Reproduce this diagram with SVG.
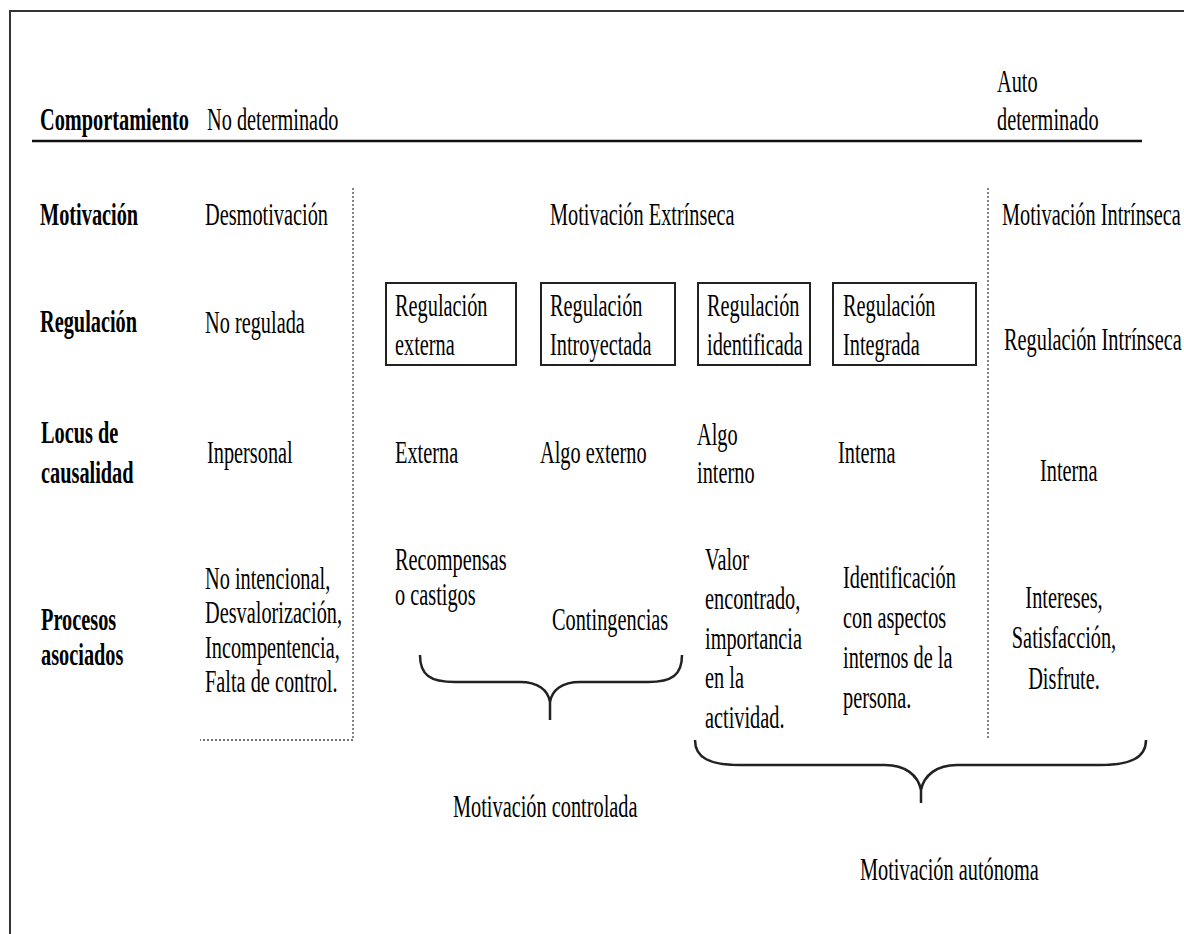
<svg xmlns="http://www.w3.org/2000/svg" width="1184" height="934" viewBox="0 0 1184 934">
<style>
.t{font-family:"Liberation Serif","Times New Roman",serif;font-size:32px;fill:#000}
.b{font-weight:bold}
.c{text-anchor:middle}
.frame{stroke:#333;stroke-width:2;fill:none}
.dot{stroke:#444;stroke-width:1.3;stroke-dasharray:2 2;fill:none}
.box{stroke:#222;stroke-width:2;fill:#fff}
.brace{stroke:#222;stroke-width:2.5;fill:none}
</style>
<rect width="1184" height="934" fill="#fff"/>
<g id="frame">
<path class="frame" d="M10,934 L10,11 L1184,11"/>
<line x1="32" y1="141" x2="1142" y2="141" stroke="#111" stroke-width="2.5"/>
</g>
<g id="connectors">
<path class="dot" d="M353,188 L353,740 L200,740"/>
<path class="dot" d="M988,188 L988,740"/>
<path class="brace" d="M420,655 C420,675 430,682 455,682 L520,682 C538,682 548,690 550,702 C552,690 562,682 580,682 L648,682 C672,682 682,675 682,655 M550,700 L550,720"/>
<path class="brace" d="M695,740 C695,758 710,765 740,765 L885,765 C905,765 918,775 921,790 C924,775 937,765 957,765 L1100,765 C1130,765 1146,758 1146,740 M921,787 L921,803"/>
</g>
<g id="row-comportamiento">
<text class="t b" transform="matrix(0.635 0 0 1 40 130)">Comportamiento</text>
<text class="t" transform="matrix(0.635 0 0 1 207 130)">No determinado</text>
<text class="t" transform="matrix(0.635 0 0 1 997 92)"><tspan x="0" y="0">Auto</tspan><tspan x="0" y="38">determinado</tspan></text>
</g>
<g id="row-motivacion">
<text class="t b" transform="matrix(0.635 0 0 1 40 225)">Motivación</text>
<text class="t" transform="matrix(0.635 0 0 1 205 225)">Desmotivación</text>
<text class="t" transform="matrix(0.635 0 0 1 550 225)">Motivación Extrínseca</text>
<text class="t" transform="matrix(0.635 0 0 1 1002 225)">Motivación Intrínseca</text>
</g>
<g id="row-regulacion">
<text class="t b" transform="matrix(0.635 0 0 1 40 332)">Regulación</text>
<text class="t" transform="matrix(0.635 0 0 1 205 333)">No regulada</text>
<text class="t" transform="matrix(0.635 0 0 1 1004 350)">Regulación Intrínseca</text>
</g>
<g id="box-externa">
<rect class="box" x="386" y="283" width="130" height="82"/>
<text class="t" transform="matrix(0.635 0 0 1 395 316)"><tspan x="0" y="0">Regulación</tspan><tspan x="0" y="39">externa</tspan></text>
</g>
<g id="box-introyectada">
<rect class="box" x="541" y="283" width="134" height="82"/>
<text class="t" transform="matrix(0.635 0 0 1 550 316)"><tspan x="0" y="0">Regulación</tspan><tspan x="0" y="39">Introyectada</tspan></text>
</g>
<g id="box-identificada">
<rect class="box" x="698" y="283" width="112" height="82"/>
<text class="t" transform="matrix(0.635 0 0 1 707 316)"><tspan x="0" y="0">Regulación</tspan><tspan x="0" y="39">identificada</tspan></text>
</g>
<g id="box-integrada">
<rect class="box" x="833" y="283" width="143" height="82"/>
<text class="t" transform="matrix(0.635 0 0 1 843 316)"><tspan x="0" y="0">Regulación</tspan><tspan x="0" y="39">Integrada</tspan></text>
</g>
<g id="row-locus">
<text class="t b" transform="matrix(0.635 0 0 1 41 443)"><tspan x="0" y="0">Locus de</tspan><tspan x="0" y="40">causalidad</tspan></text>
<text class="t" transform="matrix(0.635 0 0 1 207 463)">Inpersonal</text>
<text class="t" transform="matrix(0.635 0 0 1 395 463)">Externa</text>
<text class="t" transform="matrix(0.635 0 0 1 540 463)">Algo externo</text>
<text class="t" transform="matrix(0.635 0 0 1 697 445)"><tspan x="0" y="0">Algo</tspan><tspan x="0" y="38">interno</tspan></text>
<text class="t" transform="matrix(0.635 0 0 1 838 463)">Interna</text>
<text class="t" transform="matrix(0.635 0 0 1 1040 481)">Interna</text>
</g>
<g id="row-procesos">
<text class="t b" transform="matrix(0.635 0 0 1 41 630)"><tspan x="0" y="0">Procesos</tspan><tspan x="0" y="35">asociados</tspan></text>
<text class="t" transform="matrix(0.635 0 0 1 205 589)"><tspan x="0" y="0">No intencional,</tspan><tspan x="0" y="34.5">Desvalorización,</tspan><tspan x="0" y="69">Incompentencia,</tspan><tspan x="0" y="103.5">Falta de control.</tspan></text>
<text class="t" transform="matrix(0.635 0 0 1 395 570)"><tspan x="0" y="0">Recompensas</tspan><tspan x="0" y="35">o castigos</tspan></text>
<text class="t" transform="matrix(0.635 0 0 1 552 630)">Contingencias</text>
<text class="t" transform="matrix(0.635 0 0 1 705 570)"><tspan x="0" y="0">Valor</tspan><tspan x="0" y="39.5">encontrado,</tspan><tspan x="0" y="79">importancia</tspan><tspan x="0" y="118.5">en la</tspan><tspan x="0" y="158">actividad.</tspan></text>
<text class="t" transform="matrix(0.635 0 0 1 843 588)"><tspan x="0" y="0">Identificación</tspan><tspan x="0" y="40">con aspectos</tspan><tspan x="0" y="80">internos de la</tspan><tspan x="0" y="120">persona.</tspan></text>
<text class="t c" transform="matrix(0.635 0 0 1 1064 608)"><tspan x="0" y="0">Intereses,</tspan><tspan x="0" y="40">Satisfacción,</tspan><tspan x="0" y="81">Disfrute.</tspan></text>
</g>
<g id="labels-bottom">
<text class="t" transform="matrix(0.635 0 0 1 453 817)">Motivación controlada</text>
<text class="t" transform="matrix(0.635 0 0 1 860 880)">Motivación autónoma</text>
</g>
</svg>
